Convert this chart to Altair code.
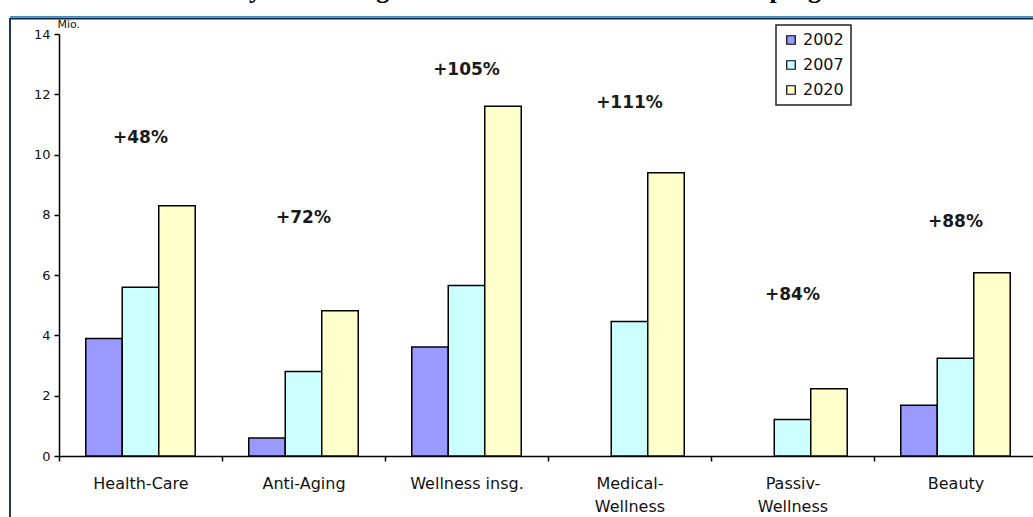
import altair as alt
import pandas as pd

# Market volume per wellness segment (Mio.), three survey years
categories = ["Health-Care", "Anti-Aging", "Wellness insg.",
              "Medical-Wellness", "Passiv-Wellness", "Beauty"]
years = ["2002", "2007", "2020"]
values_2002 = [3.9, 0.6, 3.62, None, None, 1.68]
values_2007 = [5.6, 2.8, 5.66, 4.46, 1.21, 3.24]
values_2020 = [8.3, 4.82, 11.6, 9.4, 2.23, 6.08]
# height (in Mio.) at which each growth annotation sits
growth_label_level = [10.56, 7.89, 12.8, 11.7, 5.34, 7.77]
year_colors = ["#9999FF", "#CCFFFF", "#FFFFCC"]
title_text = "Marktanalyse nach Segmenten: Volumen und Wachstumsprognose bis 2020"

rows = []
for year, series in zip(years, [values_2002, values_2007, values_2020]):
    for cat, v in zip(categories, series):
        if v is not None:
            rows.append({"Segment": cat, "Jahr": year, "Mio": v})
bars_df = pd.DataFrame(rows)

growth_df = pd.DataFrame({
    "Segment": categories,
    "level": growth_label_level,
    "label": [f"+{round((b / a - 1) * 100)}%" for a, b in zip(values_2007, values_2020)],
})

x_scale = alt.Scale(domain=categories, range=[0, 978], paddingInner=0, paddingOuter=0)
y_scale = alt.Scale(domain=[0, 14], nice=False)

x_axis = alt.Axis(
    title=None, labelAngle=0, tickBand="extent", tickSize=5, tickWidth=1.5,
    tickColor="black", domainColor="black", domainWidth=1.5,
    labelFont="DejaVu Sans", labelFontSize=16, labelColor="#111",
    labelPadding=14, labelLineHeight=23,
    labelExpr="length(datum.label) > 14 ? split(replace(datum.label, '-', '-|'), '|') : datum.label",
)
y_axis = alt.Axis(
    values=[0, 2, 4, 6, 8, 10, 12, 14], grid=False, tickSize=5, tickWidth=1.5,
    tickColor="black", domainColor="black", domainWidth=1.5,
    labelFont="DejaVu Sans", labelFontSize=13, labelColor="#111", labelPadding=4,
    title="Mio.", titleAngle=0, titleAlign="left", titleBaseline="alphabetic",
    titleX=-2, titleY=-7, titleFont="DejaVu Sans", titleFontSize=11,
    titleFontWeight="normal", titleColor="#111",
)

bars = alt.Chart(bars_df).mark_bar(stroke="black", strokeWidth=1.5).encode(
    x=alt.X("Segment:N", sort=categories, scale=x_scale, axis=x_axis),
    xOffset=alt.XOffset("Jahr:N", scale=alt.Scale(domain=years, paddingInner=0, paddingOuter=0.733)),
    y=alt.Y("Mio:Q", scale=y_scale, axis=y_axis),
    color=alt.Color(
        "Jahr:N",
        scale=alt.Scale(domain=years, range=year_colors),
        legend=alt.Legend(
            title=None, orient="none", legendX=717, legendY=-9,
            symbolType="square", symbolSize=72, symbolStrokeColor="black",
            symbolStrokeWidth=1.2, labelFont="DejaVu Sans", labelFontSize=16,
            labelColor="#111", labelOffset=4, padding=7, rowPadding=9,
            strokeColor="#222", fillColor="white",
        ),
    ),
)

growth = alt.Chart(growth_df).mark_text(
    font="DejaVu Sans", fontSize=17, fontWeight="bold", color="#1a1a1a", baseline="middle"
).encode(
    x=alt.X("Segment:N", sort=categories, scale=x_scale),
    y=alt.Y("level:Q", scale=y_scale),
    text="label:N",
)

one = pd.DataFrame({"k": [0]})
frame_blue_top = alt.Chart(one).mark_rule(color="#3a8cc8", strokeWidth=1).encode(
    x=alt.value(-49), x2=alt.value(980), y=alt.value(-17.5))
frame_top = alt.Chart(one).mark_rule(color="#14202b", strokeWidth=2).encode(
    x=alt.value(-49), x2=alt.value(980), y=alt.value(-15.5))
frame_left = alt.Chart(one).mark_rule(color="#1d3850", strokeWidth=2).encode(
    x=alt.value(-49), y=alt.value(-16), y2=alt.value(490))

title = alt.Chart(one).mark_text(
    font="Liberation Serif", fontSize=26, fontWeight="bold", color="black",
    baseline="alphabetic", align="center",
).encode(x=alt.value(489), y=alt.value(-36), text=alt.value(title_text))

chart = alt.layer(bars, growth, frame_blue_top, frame_top, frame_left, title).properties(
    width=974, height=422,
    autosize=alt.AutoSizeParams(type="none"),
    padding={"left": 59, "top": 34, "right": 0, "bottom": 61},
).configure_view(strokeWidth=0).configure_legend(strokeWidth=1.5)

chart.save("out.html", embed_options={"renderer": "svg", "actions": False})
